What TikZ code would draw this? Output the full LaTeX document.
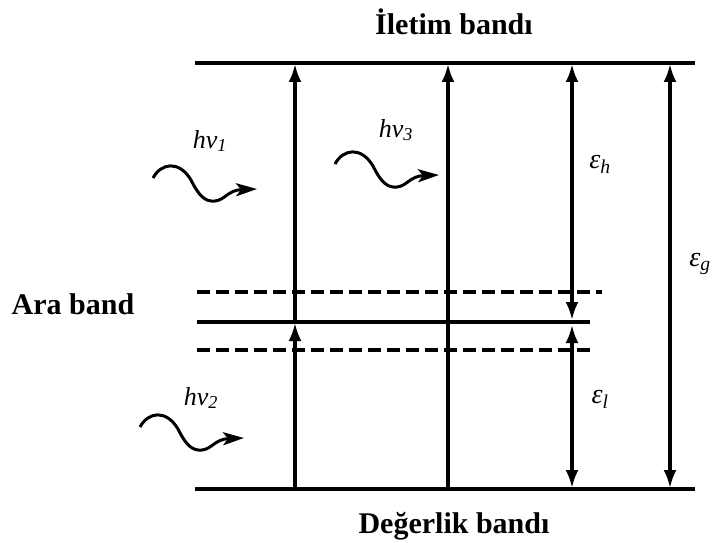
\documentclass[tikz,border=0pt]{standalone}
\usepackage{fontspec}
\setmainfont{Liberation Serif}
\usetikzlibrary{arrows.meta}
\begin{document}
\begin{tikzpicture}[x=1pt,y=-1pt,
  band/.style={line width=3.6pt},
  dband/.style={line width=3.6pt,dash pattern=on 13pt off 6pt},
  vline/.style={line width=3.2pt},
  tip/.style={-{Latex[length=18pt,width=13pt]}},
  dtip/.style={{Latex[length=18pt,width=13pt]}-{Latex[length=18pt,width=13pt]}},
  wave/.style={line width=3pt,-{Stealth[length=21pt,width=13pt,inset=5pt]}},
  lbl/.style={font=\fontsize{30}{32}\selectfont\bfseries,anchor=base},
  sym/.style={font=\fontsize{26}{28}\selectfont\itshape},
  eps/.style={font=\fontsize{28}{30}\selectfont\itshape}]
\useasboundingbox (0,0) rectangle (716,543);
% bands
\coordinate (tL) at (195,63); \coordinate (tR) at (695,63);
\coordinate (bL) at (195,489); \coordinate (bR) at (695,489);
\coordinate (mL) at (197,322); \coordinate (mR) at (590,322);
\coordinate (uL) at (197,292); \coordinate (uR) at (602,292);
\coordinate (lL) at (197,350); \coordinate (lR) at (594,350);
\draw[band] (tL) -- (tR);
\draw[band] (bL) -- (bR);
\draw[band] (mL) -- (mR);
\draw[dband] (uL) -- (uR);
\draw[dband] (lL) -- (lR);
% vertical arrows
\coordinate (a1b) at (295,489); \coordinate (a1m) at (295,323); \coordinate (a1t) at (295,64);
\coordinate (a3b) at (448,489); \coordinate (a3t) at (448,64);
\coordinate (ehT) at (572,64); \coordinate (ehB) at (572,320);
\coordinate (elT) at (572,325); \coordinate (elB) at (572,488);
\coordinate (egT) at (670,64); \coordinate (egB) at (670,488);
\draw[vline,tip] (a1b) -- (a1m);
\draw[vline,tip] (a1m) -- (a1t);
\draw[vline,tip] (a3b) -- (a3t);
\draw[vline,dtip] (ehT) -- (ehB);
\draw[vline,dtip] (elT) -- (elB);
\draw[vline,dtip] (egT) -- (egB);
% labels
\node[lbl] (cb) at (454,35) {İletim bandı};
\node[lbl] (vb) at (454,533) {Değerlik bandı};
\node[lbl] (ab) at (73,314) {Ara band};
\node[sym] (hv1) at (210,141) {hν\textsubscript{1}};
\node[sym] (hv3) at (396,130) {hν\textsubscript{3}};
\node[sym] (hv2) at (201,398) {hν\textsubscript{2}};
\node[eps] (eh) at (600,164) {ε\textsubscript{\textit{h}}};
\node[eps] (el) at (600,399) {ε\textsubscript{\textit{l}}};
\node[eps] (eg) at (700,264) {ε\textsubscript{\textit{g}}};
% waves
\foreach \n/\dx/\dy in {w1/0/0, w3/182/-14, w2/-13/249}{
  \begin{scope}[shift={(\dx,\dy)}]
    \coordinate (\n s) at (153,178);
    \coordinate (\n e) at (257,189);
    \draw[wave] (\n s) .. controls (161,163) and (179,160) .. (191,180)
      .. controls (199,196) and (205,202) .. (215,201)
      .. controls (225,200) and (228,190) .. (\n e);
  \end{scope}
}
\end{tikzpicture}
\end{document}
